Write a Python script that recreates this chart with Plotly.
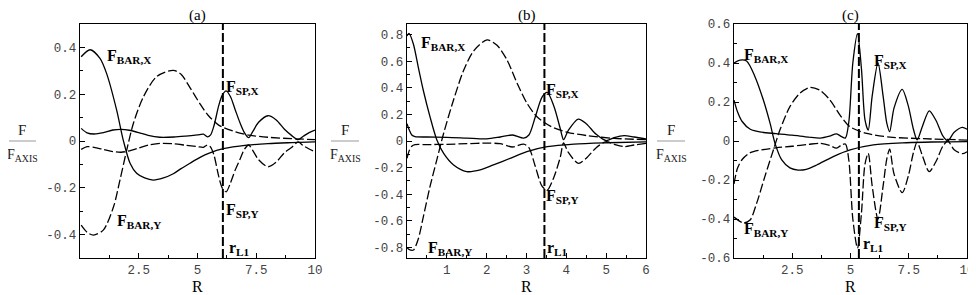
import plotly.graph_objects as go

# ---------------- data ----------------
# panel (a)
a_barx_r = [0.05, 0.43, 0.85, 1.13, 1.56, 1.84, 2.13, 2.41, 2.75, 3.12, 3.55, 3.97, 4.3, 4.68, 5.11, 5.5, 6.1, 7.1, 8.0, 9.0, 10.0]
a_barx = [0.36, 0.39, 0.353, 0.289, 0.132, 0.004, -0.095, -0.138, -0.158, -0.167, -0.158, -0.14, -0.118, -0.095, -0.07, -0.052, -0.033, -0.018, -0.011, -0.007, -0.004]
a_bary_r = [0.05, 0.3, 0.57, 0.99, 1.43, 1.70, 1.99, 2.27, 2.70, 3.26, 3.97, 4.3, 4.7, 5.1, 5.45, 5.9, 6.5, 7.2, 8.0, 9.0, 10.0]
a_bary = [-0.36, -0.39, -0.402, -0.381, -0.28, -0.167, -0.038, 0.075, 0.189, 0.275, 0.302, 0.285, 0.225, 0.16, 0.11, 0.068, 0.043, 0.025, 0.016, 0.01, 0.006]
a_sp_r = [0.05, 0.3, 0.6, 1.0, 1.4, 1.75, 2.1, 2.5, 2.9, 3.4, 4.0, 4.5, 5.0, 5.25, 5.42, 5.55, 5.7, 5.9, 6.05, 6.22, 6.4, 6.6, 6.8, 7.0, 7.18, 7.35, 7.6, 8.0, 8.35, 8.7, 9.0, 9.28, 9.5, 9.75, 10.0]
a_spx = [0.054, 0.035, 0.03, 0.036, 0.047, 0.05, 0.046, 0.036, 0.024, 0.016, 0.017, 0.021, 0.026, 0.029, 0.018, 0.025, 0.065, 0.15, 0.195, 0.214, 0.19, 0.135, 0.08, 0.035, 0.014, 0.04, 0.08, 0.108, 0.09, 0.05, 0.024, 0.006, 0.02, 0.036, 0.047]
a_spy = [-0.036, -0.024, -0.027, -0.036, -0.045, -0.048, -0.042, -0.03, -0.018, -0.01, -0.012, -0.018, -0.024, -0.027, -0.017, -0.025, -0.06, -0.15, -0.2, -0.217, -0.18, -0.125, -0.08, -0.035, -0.017, -0.04, -0.08, -0.11, -0.09, -0.05, -0.028, -0.004, -0.02, -0.034, -0.046]
a_rl1 = 6.08

# panel (b)
b_barx_r = [0.0, 0.05, 0.16, 0.28, 0.41, 0.58, 0.75, 0.92, 1.17, 1.5, 1.84, 2.17, 2.59, 3.01, 3.52, 4.19, 5.03, 6.0]
b_barx = [0.79, 0.81, 0.73, 0.56, 0.38, 0.18, 0.008, -0.093, -0.18, -0.23, -0.218, -0.18, -0.13, -0.08, -0.043, -0.023, -0.013, -0.006]
b_bary_r = [0.0, 0.05, 0.16, 0.28, 0.41, 0.58, 0.75, 0.92, 1.17, 1.42, 1.68, 2.01, 2.26, 2.51, 2.77, 3.02, 3.27, 3.61, 4.03, 4.53, 5.2, 6.0]
b_bary = [-0.8, -0.815, -0.82, -0.74, -0.57, -0.34, -0.14, 0.058, 0.31, 0.53, 0.68, 0.76, 0.72, 0.61, 0.43, 0.28, 0.18, 0.11, 0.065, 0.04, 0.02, 0.01]
b_sp_r = [0.0, 0.06, 0.12, 0.2, 0.5, 1.0, 1.5, 2.0, 2.34, 2.65, 2.93, 3.06, 3.22, 3.39, 3.52, 3.69, 3.85, 3.93, 4.05, 4.3, 4.5, 4.75, 5.0, 5.2, 5.45, 5.7, 6.0]
b_spx = [0.13, 0.08, 0.045, 0.033, 0.03, 0.028, 0.022, 0.016, 0.03, 0.045, 0.022, 0.045, 0.18, 0.33, 0.365, 0.26, 0.09, 0.01, 0.08, 0.165, 0.13, 0.05, 0.003, 0.025, 0.04, 0.03, 0.015]
b_spy = [-0.13, -0.07, -0.04, -0.028, -0.027, -0.025, -0.02, -0.016, -0.02, -0.045, -0.023, -0.05, -0.19, -0.34, -0.37, -0.27, -0.12, -0.015, -0.085, -0.168, -0.13, -0.05, -0.005, -0.025, -0.042, -0.03, -0.018]
b_rl1 = 3.45

# panel (c)
c_barx_r = [0.0, 0.26, 0.54, 0.9, 1.26, 1.55, 1.76, 2.05, 2.4, 2.75, 3.1, 3.55, 4.26, 4.98, 5.98, 7.4, 8.5, 10.0]
c_barx = [0.40, 0.415, 0.41, 0.33, 0.21, 0.09, -0.012, -0.097, -0.138, -0.149, -0.145, -0.123, -0.08, -0.046, -0.02, -0.009, -0.005, -0.003]
c_bary_r = [0.0, 0.4, 0.69, 0.97, 1.33, 1.69, 1.97, 2.4, 2.83, 3.26, 3.69, 4.12, 4.55, 4.98, 5.7, 6.7, 8.1, 10.0]
c_bary = [-0.39, -0.42, -0.405, -0.32, -0.18, -0.046, 0.056, 0.176, 0.245, 0.275, 0.26, 0.21, 0.133, 0.073, 0.039, 0.02, 0.012, 0.005]
c_sp_r = [0.0, 0.15, 0.35, 0.7, 1.2, 1.8, 2.5, 3.2, 3.7, 4.1, 4.4, 4.62, 4.78, 4.93, 5.1, 5.3, 5.47, 5.62, 5.76, 5.93, 6.18, 6.4, 6.56, 6.68, 6.87, 7.22, 7.48, 7.7, 7.86, 8.08, 8.38, 8.67, 8.97, 9.18, 9.45, 9.8, 10.0]
c_spx = [0.21, 0.15, 0.1, 0.06, 0.045, 0.038, 0.03, 0.02, 0.015, 0.025, 0.037, 0.022, 0.015, 0.1, 0.4, 0.55, 0.37, 0.11, 0.056, 0.23, 0.40, 0.23, 0.09, 0.048, 0.17, 0.265, 0.18, 0.06, 0.006, 0.073, 0.155, 0.105, 0.025, 0.001, 0.045, 0.07, 0.06]
c_spy = [-0.22, -0.14, -0.095, -0.06, -0.045, -0.035, -0.027, -0.017, -0.012, -0.022, -0.037, -0.02, -0.015, -0.1, -0.4, -0.55, -0.37, -0.12, -0.063, -0.23, -0.40, -0.23, -0.09, -0.042, -0.17, -0.265, -0.18, -0.06, -0.006, -0.073, -0.157, -0.105, -0.025, -0.001, -0.045, -0.065, -0.055]
c_rl1 = 5.36

# tick labels
a_xticks = [2.5, 5, 7.5, 10]
a_xlabels = ["2.5", "5", "7.5", "10"]
a_yticks = [-0.4, -0.2, 0, 0.2, 0.4]
a_ylabels = ["-0.4", "-0.2", "0", "0.2", "0.4"]
b_xticks = [1, 2, 3, 4, 5, 6]
b_xlabels = ["1", "2", "3", "4", "5", "6"]
b_yticks = [-0.8, -0.6, -0.4, -0.2, 0, 0.2, 0.4, 0.6, 0.8]
b_ylabels = ["-0.8", "-0.6", "-0.4", "-0.2", "0", "0.2", "0.4", "0.6", "0.8"]
c_xticks = [2.5, 5, 7.5, 10]
c_xlabels = ["2.5", "5", "7.5", "10"]
c_yticks = [-0.6, -0.4, -0.2, 0, 0.2, 0.4, 0.6]
c_ylabels = ["-0.6", "-0.4", "-0.2", "0", "0.2", "0.4", "0.6"]

panel_titles = ["(a)", "(b)", "(c)"]

# ---------------- figure ----------------
# the page body has an 8px margin, so the figure is made 8px smaller and all
# reference pixel positions are shifted by that offset
OFF = 8
W, H = 976 - OFF, 295 - OFF
SERIF = "Liberation Serif"
MONO = "Liberation Mono"
DASH = "9px,3px"
LW = 1.3


def fx_(px):
    return (px - OFF) / W


def fy_(py):
    return 1 - (py - OFF) / H


panels = [
    dict(xa="x", ya="y", barx_r=a_barx_r, barx=a_barx, bary_r=a_bary_r, bary=a_bary,
         sp_r=a_sp_r, spx=a_spx, spy=a_spy, rl1=a_rl1, xr=[0, 10], yr=[-0.5, 0.5],
         px=(80, 315), xt=a_xticks, xl=a_xlabels, yt=a_yticks, yl=a_ylabels, xminor=1.25,
         labels=[(1.06, 0.36, "BAR,X"), (1.49, -0.345, "BAR,Y"), (6.13, 0.229, "SP,X"), (6.13, -0.295, "SP,Y")],
         rlab=(6.26, -0.459), fcx=22),
    dict(xa="x2", ya="y2", barx_r=b_barx_r, barx=b_barx, bary_r=b_bary_r, bary=b_bary,
         sp_r=b_sp_r, spx=b_spx, spy=b_spy, rl1=b_rl1, xr=[0, 6], yr=[-0.88, 0.88],
         px=(407, 646), xt=b_xticks, xl=b_xlabels, yt=b_yticks, yl=b_ylabels, xminor=0.5,
         labels=[(0.31, 0.735, "BAR,X"), (0.48, -0.807, "BAR,Y"), (3.45, 0.383, "SP,X"), (3.45, -0.419, "SP,Y")],
         rlab=(3.47, -0.807), fcx=345),
    dict(xa="x3", ya="y3", barx_r=c_barx_r, barx=c_barx, bary_r=c_bary_r, bary=c_bary,
         sp_r=c_sp_r, spx=c_spx, spy=c_spy, rl1=c_rl1, xr=[0, 10], yr=[-0.6, 0.6],
         px=(734, 967), xt=c_xticks, xl=c_xlabels, yt=c_yticks, yl=c_ylabels, xminor=1.25,
         labels=[(0.33, 0.441, "BAR,X"), (0.33, -0.456, "BAR,Y"), (5.94, 0.407, "SP,X"), (5.94, -0.422, "SP,Y")],
         rlab=(5.45, -0.533), fcx=671),
]

fig = go.Figure()
annotations = []
shapes = []
ytop, ybot = 24, 258
ydom = [fy_(ybot), fy_(ytop)]

for i, p in enumerate(panels):
    common = dict(xaxis=p["xa"], yaxis=p["ya"], mode="lines", showlegend=False, hoverinfo="skip")
    spl = dict(shape="spline", smoothing=0.8, color="black", width=LW)
    fig.add_trace(go.Scatter(x=p["barx_r"], y=p["barx"], line=dict(**spl), **common))
    fig.add_trace(go.Scatter(x=p["bary_r"], y=p["bary"], line=dict(dash=DASH, **spl), **common))
    fig.add_trace(go.Scatter(x=p["sp_r"], y=p["spx"], line=dict(**spl), **common))
    fig.add_trace(go.Scatter(x=p["sp_r"], y=p["spy"], line=dict(dash=DASH, **spl), **common))
    fig.add_trace(go.Scatter(x=[p["rl1"], p["rl1"]], y=p["yr"], line=dict(color="black", width=2, dash="9px,3px"), **common))

    sfx = "" if i == 0 else str(i + 1)
    xdom = [fx_(p["px"][0]), fx_(p["px"][1])]
    ax_common = dict(showline=True, mirror=True, linecolor="black", linewidth=1.3,
                     ticks="inside", ticklen=5, tickwidth=1, tickcolor="black",
                     showgrid=False, zeroline=False, automargin=False,
                     tickfont=dict(family=MONO, size=12.5, color="#444"))
    fig.update_layout(**{
        "xaxis" + sfx: dict(domain=xdom, range=p["xr"], anchor="y" + sfx, tickmode="array",
                            tickvals=p["xt"], ticktext=p["xl"],
                            minor=dict(dtick=p["xminor"], tick0=0, ticks="inside", ticklen=3, tickcolor="black"),
                            **ax_common),
        "yaxis" + sfx: dict(domain=ydom, range=p["yr"], anchor="x" + sfx, tickmode="array",
                            tickvals=p["yt"], ticktext=p["yl"],
                            minor=dict(dtick=0.1, tick0=0, ticks="inside", ticklen=3, tickcolor="black"),
                            **ax_common),
    })

    xref, yref = p["xa"], p["ya"]
    for (lx, ly, sub) in p["labels"]:
        annotations.append(dict(x=lx, y=ly, xref=xref, yref=yref, xanchor="left", yanchor="middle",
                                text="<b>F<sub>%s</sub></b>" % sub, showarrow=False,
                                font=dict(family=SERIF, size=16, color="black")))
    annotations.append(dict(x=p["rlab"][0], y=p["rlab"][1], xref=xref, yref=yref, xanchor="left", yanchor="middle",
                            text="<b>r<sub>L1</sub></b>", showarrow=False,
                            font=dict(family=SERIF, size=16, color="black")))

    cx = (p["px"][0] + p["px"][1]) / 2
    # panel title
    annotations.append(dict(x=fx_(cx), y=fy_(15), xref="paper", yref="paper", text=panel_titles[i],
                            showarrow=False, font=dict(family=SERIF, size=15, color="black"),
                            xanchor="center", yanchor="middle"))
    # x title
    annotations.append(dict(x=fx_(cx), y=fy_(286), xref="paper", yref="paper", text="R",
                            showarrow=False, font=dict(family=SERIF, size=16, color="black"),
                            xanchor="center", yanchor="middle"))
    # y title as fraction
    fx = p["fcx"]
    annotations.append(dict(x=fx_(fx), y=fy_(130), xref="paper", yref="paper", text="F",
                            showarrow=False, font=dict(family=SERIF, size=15, color="#222"),
                            xanchor="center", yanchor="middle"))
    annotations.append(dict(x=fx_(fx), y=fy_(155), xref="paper", yref="paper",
                            text="F<sub>AXIS</sub>",
                            showarrow=False, font=dict(family=SERIF, size=14, color="#222"),
                            xanchor="center", yanchor="middle"))
    shapes.append(dict(type="line", xref="paper", yref="paper", x0=fx_(max(fx - 14, 9)), x1=fx_(fx + 14),
                       y0=fy_(141), y1=fy_(141), line=dict(color="#999", width=1)))

fig.update_layout(width=W, height=H, autosize=False, margin=dict(l=0, r=0, t=0, b=0),
                  paper_bgcolor="white", plot_bgcolor="white",
                  annotations=annotations, shapes=shapes)

fig.write_html("out.html")
